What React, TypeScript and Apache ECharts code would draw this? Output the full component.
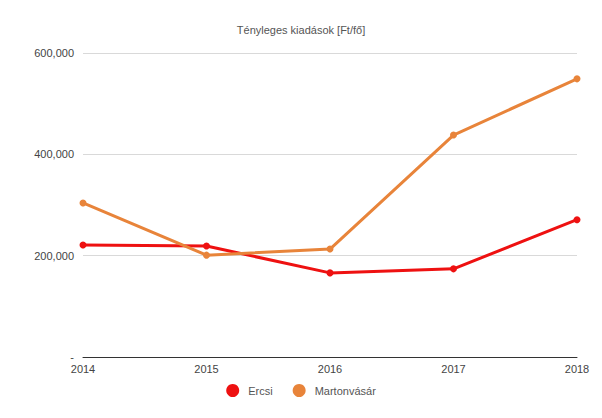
import React, { useEffect, useRef } from "react";
import * as echarts from "echarts";

const categories = ["2014", "2015", "2016", "2017", "2018"];
const ercsi = [221000, 219000, 166000, 174000, 271000];
const martonvasar = [304000, 201000, 213000, 438000, 549000];
const seriesNames = ["Ercsi", "Martonvásár"];
const titleText = "Tényleges kiadások [Ft/fő]";

export default function App() {
  const ref = useRef<HTMLDivElement>(null);
  useEffect(() => {
    const chart = echarts.init(ref.current!, null, { renderer: "svg" });
    const font = "Arial, 'Liberation Sans', sans-serif";
    chart.setOption({
      animation: false,
      backgroundColor: "#ffffff",
      title: {
        text: titleText,
        left: "center",
        top: 19,
        textStyle: { fontSize: 11, fontWeight: "normal", color: "#555", fontFamily: font },
      },
      legend: {
        bottom: 16,
        left: "center",
        icon: "circle",
        itemWidth: 13,
        itemHeight: 13,
        itemGap: 20,
        data: seriesNames,
        textStyle: { fontSize: 11, color: "#555", fontFamily: font, padding: [0, 0, 0, 4] },
      },
      grid: { left: 83, right: 25, top: 53, bottom: 61, containLabel: false },
      xAxis: {
        type: "category",
        data: categories,
        boundaryGap: false,
        axisLine: { lineStyle: { color: "#333", width: 1 } },
        axisTick: { show: false },
        axisLabel: { color: "#444", fontSize: 11, fontFamily: font, margin: 6 },
      },
      yAxis: {
        type: "value",
        min: 0,
        max: 600000,
        interval: 200000,
        axisLine: { show: false },
        axisTick: { show: false },
        splitLine: { lineStyle: { color: "#d9d9d9" } },
        axisLabel: {
          color: "#444",
          fontSize: 11,
          fontFamily: font,
          margin: 9,
          formatter: (v: number) => (v === 0 ? "-" : v.toLocaleString("en-US")),
        },
      },
      series: [
        {
          name: seriesNames[0],
          type: "line",
          data: ercsi,
          color: "#ee1111",
          symbol: "circle",
          symbolSize: 7,
          lineStyle: { width: 3 },
        },
        {
          name: seriesNames[1],
          type: "line",
          data: martonvasar,
          color: "#e8843a",
          symbol: "circle",
          symbolSize: 7,
          lineStyle: { width: 3 },
        },
      ],
    });
    return () => chart.dispose();
  }, []);
  return <div ref={ref} style={{ width: 602, height: 418, position: "absolute", left: 0, top: 0 }} />;
}
